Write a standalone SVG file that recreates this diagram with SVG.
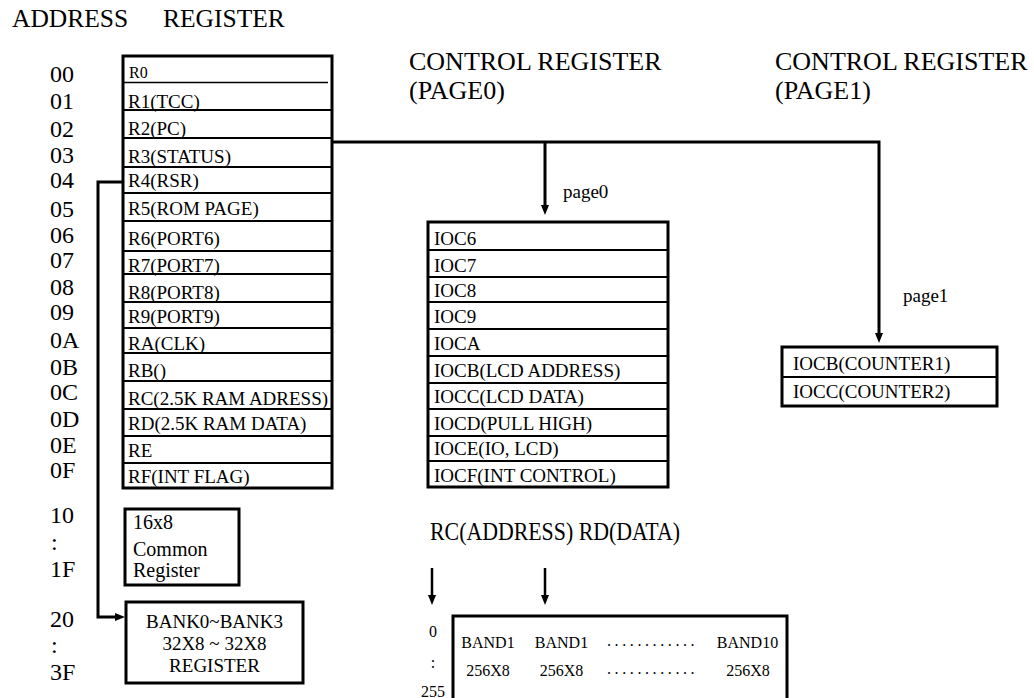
<svg xmlns="http://www.w3.org/2000/svg" width="1034" height="698" viewBox="0 0 1034 698" font-family="'Liberation Serif', 'Times New Roman', Times, 'DejaVu Serif', serif">
<style>
text{fill:#000}
.title{font-size:25.5px}
.ctitle{font-size:26px}
.addr{font-size:24px}
.cell{font-size:19px}
.small{font-size:19px}
.band{font-size:16px}
.box{fill:#fff;stroke:#000;stroke-width:3}
.row{stroke:#000;stroke-width:2}
.conn{fill:none;stroke:#000;stroke-width:3}
.thin{fill:none;stroke:#000;stroke-width:2.5}
</style>
<defs>
<marker id="arr" markerUnits="userSpaceOnUse" markerWidth="11" markerHeight="9" refX="3" refY="4" orient="auto">
<path d="M0,0 L10,4 L0,8 z" fill="#000"/>
</marker>
</defs>
<rect width="1034" height="698" fill="#fff"/>

<g id="titles">
<text class="title" x="12" y="27">ADDRESS</text>
<text class="title" x="163" y="27">REGISTER</text>
<text class="ctitle" x="409" y="70">CONTROL REGISTER</text>
<text class="ctitle" x="409" y="99">(PAGE0)</text>
<text class="ctitle" x="775" y="70">CONTROL REGISTER</text>
<text class="ctitle" x="775" y="99">(PAGE1)</text>
<text class="title" x="430" y="540" textLength="250" lengthAdjust="spacingAndGlyphs">RC(ADDRESS) RD(DATA)</text>
</g>

<g id="addresses">
<text class="addr" x="50" y="82">00</text>
<text class="addr" x="50" y="109">01</text>
<text class="addr" x="50" y="137">02</text>
<text class="addr" x="50" y="163">03</text>
<text class="addr" x="50" y="188">04</text>
<text class="addr" x="50" y="217">05</text>
<text class="addr" x="50" y="243">06</text>
<text class="addr" x="50" y="268">07</text>
<text class="addr" x="50" y="295">08</text>
<text class="addr" x="50" y="320">09</text>
<text class="addr" x="50" y="348">0A</text>
<text class="addr" x="50" y="375">0B</text>
<text class="addr" x="50" y="400">0C</text>
<text class="addr" x="50" y="427">0D</text>
<text class="addr" x="50" y="453">0E</text>
<text class="addr" x="50" y="478">0F</text>
<text class="addr" x="50" y="523">10</text>
<text class="addr" x="51" y="550">:</text>
<text class="addr" x="50" y="577">1F</text>
<text class="addr" x="50" y="627">20</text>
<text class="addr" x="51" y="653">:</text>
<text class="addr" x="50" y="680">3F</text>
</g>

<g id="register-file">
<rect class="box" x="123" y="56" width="209" height="432"/>
<line class="row" x1="123" y1="82.5" x2="328" y2="82.5" style="stroke-width:1.5"/>
<line class="row" x1="123" y1="110" x2="332" y2="110"/>
<line class="row" x1="123" y1="138" x2="332" y2="138"/>
<line class="row" x1="123" y1="167" x2="332" y2="167"/>
<line class="row" x1="123" y1="193" x2="332" y2="193"/>
<line class="row" x1="123" y1="221" x2="332" y2="221"/>
<line class="row" x1="123" y1="251" x2="332" y2="251"/>
<line class="row" x1="123" y1="274" x2="332" y2="274"/>
<line class="row" x1="123" y1="302" x2="332" y2="302"/>
<line class="row" x1="123" y1="328" x2="332" y2="328"/>
<line class="row" x1="123" y1="353" x2="332" y2="353"/>
<line class="row" x1="123" y1="381" x2="332" y2="381"/>
<line class="row" x1="123" y1="409" x2="332" y2="409"/>
<line class="row" x1="123" y1="436" x2="332" y2="436"/>
<line class="row" x1="123" y1="463" x2="332" y2="463"/>
<text x="129" y="78" font-size="16">R0</text>
<text class="cell" x="128" y="108">R1(TCC)</text>
<text class="cell" x="128" y="135">R2(PC)</text>
<text class="cell" x="128" y="163">R3(STATUS)</text>
<text class="cell" x="128" y="187">R4(RSR)</text>
<text class="cell" x="128" y="215">R5(ROM PAGE)</text>
<text class="cell" x="128" y="245">R6(PORT6)</text>
<text class="cell" x="128" y="272">R7(PORT7)</text>
<text class="cell" x="128" y="299">R8(PORT8)</text>
<text class="cell" x="128" y="323">R9(PORT9)</text>
<text class="cell" x="128" y="350">RA(CLK)</text>
<text class="cell" x="128" y="377">RB()</text>
<text class="cell" x="128" y="405">RC(2.5K RAM ADRESS)</text>
<text class="cell" x="128" y="430">RD(2.5K RAM DATA)</text>
<text class="cell" x="128" y="457">RE</text>
<text class="cell" x="128" y="483">RF(INT FLAG)</text>
</g>

<g id="common-register">
<rect class="box" x="125" y="509" width="114" height="76"/>
<text x="133" y="529" font-size="20">16x8</text>
<text x="133" y="556" font-size="20">Common</text>
<text x="133" y="577" font-size="20">Register</text>
</g>

<g id="bank-register">
<rect class="box" x="126" y="602" width="177" height="81"/>
<text class="cell" x="214.5" y="628" text-anchor="middle">BANK0~BANK3</text>
<text class="cell" x="214.5" y="650" text-anchor="middle">32X8 ~ 32X8</text>
<text class="cell" x="214.5" y="672" text-anchor="middle">REGISTER</text>
</g>

<g id="control-page0">
<rect class="box" x="428" y="222" width="240" height="265"/>
<line class="row" x1="428" y1="250" x2="668" y2="250"/>
<line class="row" x1="428" y1="277" x2="668" y2="277"/>
<line class="row" x1="428" y1="302" x2="668" y2="302"/>
<line class="row" x1="428" y1="329" x2="668" y2="329"/>
<line class="row" x1="428" y1="356" x2="668" y2="356"/>
<line class="row" x1="428" y1="383" x2="668" y2="383"/>
<line class="row" x1="428" y1="409" x2="668" y2="409"/>
<line class="row" x1="428" y1="436" x2="668" y2="436"/>
<line class="row" x1="428" y1="461" x2="668" y2="461"/>
<text class="cell" x="434" y="245">IOC6</text>
<text class="cell" x="434" y="272">IOC7</text>
<text class="cell" x="434" y="297">IOC8</text>
<text class="cell" x="434" y="323">IOC9</text>
<text class="cell" x="434" y="350">IOCA</text>
<text class="cell" x="434" y="377">IOCB(LCD ADDRESS)</text>
<text class="cell" x="434" y="403">IOCC(LCD DATA)</text>
<text class="cell" x="434" y="430">IOCD(PULL HIGH)</text>
<text class="cell" x="434" y="455">IOCE(IO, LCD)</text>
<text class="cell" x="434" y="482">IOCF(INT CONTROL)</text>
</g>

<g id="control-page1">
<rect class="box" x="782" y="347" width="215" height="59"/>
<line class="row" x1="782" y1="377" x2="997" y2="377"/>
<text class="cell" x="793" y="370">IOCB(COUNTER1)</text>
<text class="cell" x="793" y="398">IOCC(COUNTER2)</text>
</g>

<g id="ram-banks">
<rect class="box" x="453" y="616" width="334" height="100"/>
<text class="band" x="488" y="648" text-anchor="middle">BAND1</text>
<text class="band" x="488" y="676" text-anchor="middle">256X8</text>
<text class="band" x="561.5" y="648" text-anchor="middle">BAND1</text>
<text class="band" x="561.5" y="676" text-anchor="middle">256X8</text>
<text class="band" x="607" y="646" letter-spacing="3.6">............</text>
<text class="band" x="607" y="674" letter-spacing="3.6">............</text>
<text class="band" x="747.5" y="648" text-anchor="middle">BAND10</text>
<text class="band" x="748" y="676" text-anchor="middle">256X8</text>
<text class="band" x="433" y="637" text-anchor="middle">0</text>
<text class="band" x="433" y="668" text-anchor="middle">:</text>
<text class="band" x="433" y="697" text-anchor="middle">255</text>
</g>

<g id="labels">
<text class="small" x="563" y="198">page0</text>
<text class="small" x="903" y="302">page1</text>
</g>

<g id="connectors">
<path class="conn" d="M332,142 H879 V336" marker-end="url(#arr)"/>
<path class="conn" d="M545,142 V208" marker-end="url(#arr)"/>
<path class="conn" d="M123,182 H98 V617 H118" marker-end="url(#arr)"/>
<path class="thin" d="M432,568 V598" marker-end="url(#arr)"/>
<path class="thin" d="M545,568 V598" marker-end="url(#arr)"/>
</g>
</svg>
